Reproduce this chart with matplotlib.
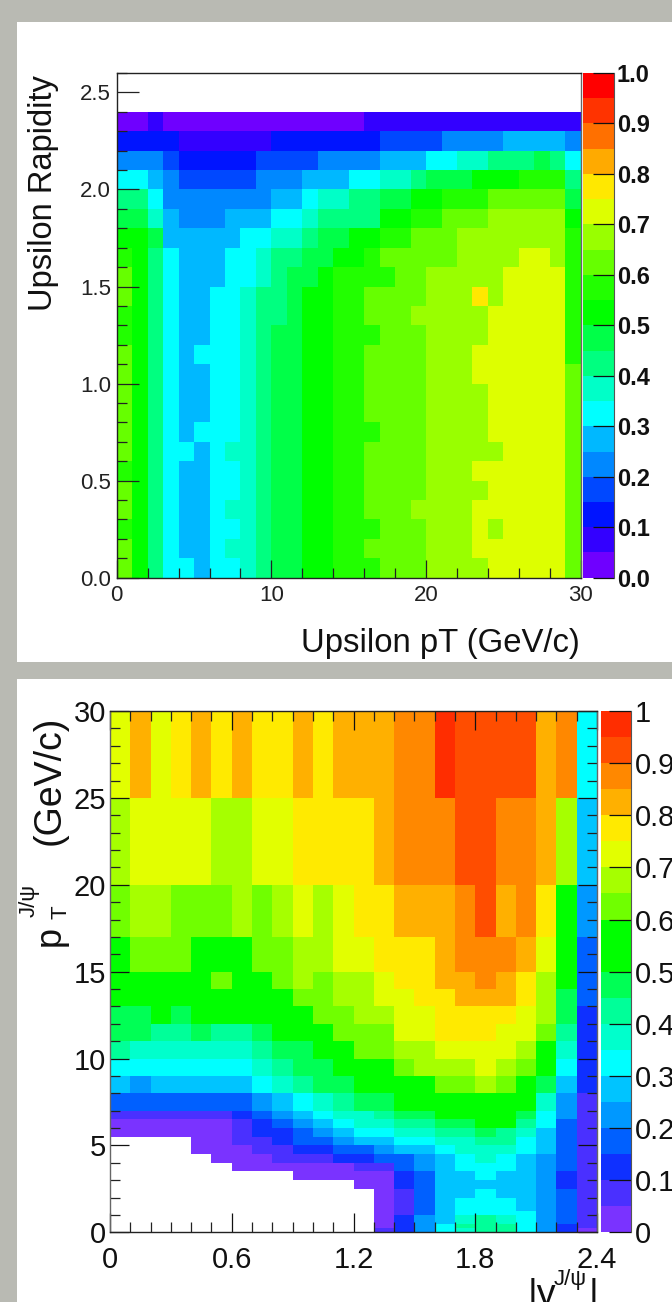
import numpy as np
import matplotlib
matplotlib.use("Agg")
import matplotlib.pyplot as plt
from matplotlib.colors import ListedColormap, BoundaryNorm
from matplotlib.ticker import MultipleLocator

W, H = 672, 1302
plt.rcParams['font.family'] = ['Liberation Sans', 'DejaVu Sans']

# efficiency is stored as the palette bin it falls in (bin n = n*0.05 .. (n+1)*0.05), -1 = empty
upsilon_pt_edges = list(range(0, 31))
upsilon_y_edges = [i / 10 for i in range(0, 25)]
upsilon_bins = [  # top row (y 2.3-2.4) first
    [0,0,1,0,0,0,0,0,0,0,0,0,0,0,0,0,1,1,1,1,1,1,1,1,1,1,1,1,1,1],
    [2,2,2,2,1,1,1,1,1,1,2,2,2,2,2,2,2,3,3,3,3,4,4,4,4,5,5,5,5,4],
    [4,4,4,3,2,2,2,2,2,3,3,3,3,4,4,4,4,5,5,5,6,6,7,7,8,8,8,9,8,6],
    [6,6,5,4,3,3,3,3,3,4,4,4,5,5,5,6,6,7,7,8,9,9,9,10,10,10,11,11,11,8],
    [8,8,6,4,4,4,4,4,4,4,5,5,6,7,7,8,8,9,9,10,10,11,11,11,12,12,12,12,12,9],
    [9,9,7,5,4,4,4,5,5,5,6,6,7,8,8,8,8,10,10,11,11,12,12,12,13,13,13,13,13,10],
    [10,10,9,5,5,5,5,5,6,6,7,7,8,9,9,10,10,11,11,12,12,12,13,13,13,13,13,13,13,11],
    [11,10,8,6,5,5,5,6,6,7,8,8,9,9,10,10,11,12,12,12,12,12,13,13,13,13,14,14,13,11],
    [12,10,8,6,5,5,5,6,6,7,8,9,9,10,11,11,11,11,12,12,13,13,13,13,13,14,14,14,14,11],
    [12,10,8,6,5,5,6,6,7,8,8,9,10,10,11,11,12,12,12,12,13,13,13,15,13,14,14,14,14,11],
    [11,10,8,6,5,5,6,6,7,8,8,9,10,10,11,11,12,12,12,13,13,13,13,13,14,14,14,14,14,11],
    [11,10,8,6,5,5,6,6,7,8,9,9,10,10,11,11,11,12,12,12,13,13,13,13,14,14,14,14,14,11],
    [12,10,8,6,5,6,6,6,7,8,9,9,10,10,11,11,12,12,12,12,13,13,13,14,14,14,14,14,14,11],
    [12,10,8,6,5,5,6,6,7,8,9,9,10,10,11,11,12,12,12,12,13,13,13,14,14,14,14,14,14,12],
    [12,10,8,6,5,5,6,6,7,8,9,9,10,10,11,11,12,12,12,12,13,13,13,13,14,14,14,14,14,12],
    [12,10,8,6,5,5,6,6,7,8,9,9,10,10,11,11,12,12,12,12,13,13,13,13,14,14,14,14,14,12],
    [12,10,8,6,5,6,6,6,7,8,9,9,10,10,11,11,11,12,12,12,13,13,13,13,14,14,14,14,14,12],
    [12,10,8,6,6,5,6,7,7,8,9,9,10,10,11,11,12,12,12,12,13,13,13,13,13,14,14,14,14,12],
    [11,10,8,6,5,5,6,6,7,8,9,9,10,10,11,11,12,12,12,12,13,13,13,14,14,14,14,14,14,12],
    [12,10,8,6,5,5,6,6,7,8,9,9,10,10,11,11,12,12,12,12,13,13,13,13,14,14,14,14,14,12],
    [12,10,8,6,5,5,6,7,7,8,9,9,10,10,11,11,12,12,12,13,13,13,13,14,14,14,14,14,14,12],
    [11,10,8,6,5,5,6,6,7,8,9,9,10,10,11,11,11,12,12,12,13,13,13,14,13,14,14,14,14,12],
    [12,10,8,6,5,5,6,7,7,8,9,9,10,10,11,11,12,12,12,12,13,13,13,14,14,14,14,14,14,12],
    [12,10,8,6,6,5,6,6,7,8,9,9,10,10,11,11,11,12,12,12,13,13,13,13,14,14,14,14,14,12],
]

jpsi_y_edges = [i / 10 for i in range(0, 25)]
jpsi_pt_edges = [0,0.25,0.5,1,1.25,1.5,2,2.5,3,3.5,4,4.5,5,5.5,6,6.5,7,8,9,10,11,12,13,14,15,17,20,25,30]
E = -1
jpsi_bins = [  # top row (pT 25-30) first
    [14,16,14,15,16,15,16,15,15,16,15,16,16,16,17,17,19,18,18,18,18,16,17,6],
    [13,14,14,14,14,13,13,14,14,15,15,15,15,16,17,17,17,18,18,17,17,16,13,5],
    [12,13,13,12,12,12,13,12,13,14,13,14,15,15,16,16,16,17,18,16,17,15,11,4],
    [11,12,12,12,11,11,11,12,12,13,13,14,14,15,15,15,16,17,17,17,16,14,11,3],
    [11,11,11,11,11,12,11,11,12,13,12,13,13,14,15,15,16,16,17,16,15,13,11,3],
    [11,11,11,11,11,11,11,11,11,12,12,13,13,14,14,15,15,16,16,16,15,13,9,3],
    [9,9,11,9,11,11,11,11,11,11,12,12,13,13,14,14,15,15,15,15,14,13,9,2],
    [9,9,8,8,9,8,8,9,11,11,11,12,12,12,14,14,15,15,15,14,14,12,8,2],
    [8,7,7,7,7,7,7,8,9,9,11,11,12,12,13,13,14,14,14,14,13,11,7,2],
    [6,6,6,6,6,6,6,7,8,9,9,11,11,11,12,13,13,13,14,13,12,11,6,2],
    [5,4,5,5,5,5,5,6,7,8,9,9,11,11,11,11,12,12,13,12,11,9,5,2],
    [3,3,3,3,3,3,3,4,5,6,7,8,9,9,11,11,11,11,11,11,11,7,4,1],
    [1,1,1,1,1,1,2,3,4,5,6,7,7,8,9,9,11,11,11,11,9,6,4,1],
    [0,0,0,0,0,0,1,2,3,4,5,6,7,7,8,8,9,9,11,11,8,6,3,1],
    [0,0,0,0,0,0,1,2,2,3,4,5,6,6,7,7,8,8,9,8,7,5,3,1],
    [E,E,E,E,0,0,1,1,2,3,3,4,5,5,6,6,7,7,8,8,6,5,3,1],
    [E,E,E,E,0,0,0,1,1,2,2,3,3,4,5,5,6,7,7,7,6,5,3,1],
    [E,E,E,E,E,0,0,0,1,1,1,2,2,3,3,4,5,6,7,6,5,4,3,1],
    [E,E,E,E,E,E,0,0,0,0,0,0,1,1,3,4,5,6,6,6,5,4,3,1],
    [E,E,E,E,E,E,E,E,E,0,0,0,0,0,2,3,5,5,6,5,5,4,2,1],
    [E,E,E,E,E,E,E,E,E,E,E,E,0,0,2,3,5,5,5,5,5,4,2,1],
    [E,E,E,E,E,E,E,E,E,E,E,E,E,0,1,3,5,5,6,5,5,4,3,1],
    [E,E,E,E,E,E,E,E,E,E,E,E,E,0,1,3,5,6,6,6,5,4,3,1],
    [E,E,E,E,E,E,E,E,E,E,E,E,E,0,1,3,5,6,6,6,5,4,3,1],
    [E,E,E,E,E,E,E,E,E,E,E,E,E,0,1,3,5,6,6,6,6,4,3,1],
    [E,E,E,E,E,E,E,E,E,E,E,E,E,0,2,4,5,7,8,7,6,4,3,1],
    [E,E,E,E,E,E,E,E,E,E,E,E,E,0,2,4,6,8,8,8,6,4,2,1],
    [E,E,E,E,E,E,E,E,E,E,E,E,E,1,2,4,6,7,8,8,6,4,2,0],
]

top_colors = ['#6f00ff','#3300ff','#0014ff','#0048ff','#0088ff','#00b8ff','#00ffff','#00ffc8','#00ff80','#00ff48',
              '#00ff00','#22ff00','#66ff00','#99ff00','#ddff00','#ffe800','#ffaa00','#ff7000','#ff3300','#ff0000']
bottom_colors = ['#7a33ff','#4a30ff','#0f30ff','#0060ff','#0098ff','#00c4ff','#00ffff','#00ffcc','#00ff99','#00ff55',
                 '#00ff00','#00ff00','#70ff00','#a6ff00','#e2ff00','#ffea00','#ffb000','#ff8800','#ff4d00','#ff2d00']
GREY = '#b9bab3'


def add_ax(x0, y0, x1, y1):
    return fig.add_axes([x0 / W, 1 - y1 / H, (x1 - x0) / W, (y1 - y0) / H])


def txt(x, y, s, **kw):
    kw.setdefault('ha', 'center')
    kw.setdefault('va', 'center_baseline')
    kw.setdefault('color', '#111111')
    return fig.text(x / W, 1 - y / H, s, **kw)


def heat(ax, xe, ye, bins, colors):
    cmap = ListedColormap(colors)
    norm = BoundaryNorm(np.arange(21), 20)
    z = np.ma.masked_less(np.array(bins)[::-1], 0)
    ax.pcolormesh(xe, ye, z, cmap=cmap, norm=norm)


def colorbar(x0, y0, x1, y1, colors, tick_len, labels, lab_x, **lab_kw):
    ax = add_ax(x0, y0, x1, y1)
    levels = np.arange(20)[:, None]
    ax.pcolormesh([0, 1], np.arange(21) / 20, levels, cmap=ListedColormap(colors),
                  norm=BoundaryNorm(np.arange(21), 20))
    ax.set_xlim(0, 1)
    ax.set_ylim(0, 1)
    ax.set_xticks([])
    ax.yaxis.tick_right()
    ax.set_yticks(np.arange(0, 11) / 10)
    ax.tick_params(axis='y', direction='in', length=tick_len, width=0.9, color='#111111', labelright=False)
    for s in ax.spines.values():
        s.set_visible(False)
    ax.spines['right'].set_visible(True)
    ax.spines['right'].set_color('#555555')
    for v, lab in labels:
        txt(lab_x, y1 - (y1 - y0) * v, lab, ha='left', **lab_kw)


fig = plt.figure(figsize=(W / 100, H / 100), dpi=100, facecolor=GREY)
fig.add_artist(plt.Rectangle((17 / W, 1 - 662 / H), (W - 17) / W, (662 - 22) / H,
                             transform=fig.transFigure, facecolor='white', edgecolor='none', zorder=-5))
fig.add_artist(plt.Rectangle((17 / W, 0), (W - 17) / W, (H - 679) / H,
                             transform=fig.transFigure, facecolor='white', edgecolor='none', zorder=-5))

# upper panel
ax1 = add_ax(116.7, 73, 580.7, 577.7)
ax1.patch.set_alpha(0)
heat(ax1, upsilon_pt_edges, upsilon_y_edges, upsilon_bins, top_colors)
ax1.set_xlim(0, 30)
ax1.set_ylim(0, 2.6)
ax1.xaxis.set_minor_locator(MultipleLocator(2))
ax1.yaxis.set_minor_locator(MultipleLocator(0.1))
ax1.set_xticks([0, 10, 20, 30])
ax1.set_yticks([0, 0.5, 1, 1.5, 2, 2.5])
ax1.set_xticklabels(['0', '10', '20', '30'])
ax1.set_yticklabels(['0.0', '0.5', '1.0', '1.5', '2.0', '2.5'])
ax1.tick_params(which='major', direction='in', labelsize=16, colors='#222222', width=0.9)
ax1.tick_params(axis='x', which='major', length=13, pad=5)
ax1.tick_params(axis='y', which='major', length=16, pad=4)
ax1.tick_params(which='minor', direction='in', length=7, width=0.9, color='#222222')
for s in ax1.spines.values():
    s.set_linewidth(1.0)
    s.set_color('#222222')
ax1.spines['right'].set_color('#666666')
txt(440, 640, 'Upsilon pT (GeV/c)', fontsize=23.7)
txt(44, 193, 'Upsilon Rapidity', fontsize=23.5, rotation=90, va='center')
colorbar(583.3, 73, 614, 577.7, top_colors, 15,
         [(i / 10, '%.1f' % (i / 10)) for i in range(11)], 617, fontsize=17, fontweight='bold')

# lower panel
ax2 = add_ax(110, 711, 597, 1232.3)
ax2.patch.set_alpha(0)
heat(ax2, jpsi_y_edges, jpsi_pt_edges, jpsi_bins, bottom_colors)
ax2.set_xlim(0, 2.4)
ax2.set_ylim(0, 30)
ax2.set_xticks([0, 0.6, 1.2, 1.8, 2.4])
ax2.set_xticklabels(['0', '0.6', '1.2', '1.8', '2.4'])
ax2.set_yticks([0, 5, 10, 15, 20, 25, 30])
ax2.xaxis.set_minor_locator(MultipleLocator(0.1))
ax2.yaxis.set_minor_locator(MultipleLocator(1))
ax2.tick_params(which='both', direction='in', top=True, right=True, color='#222222', width=0.9)
ax2.tick_params(which='major', length=14, labelsize=21, colors='#111111')
ax2.tick_params(axis='x', which='major', pad=10)
ax2.tick_params(axis='y', which='major', pad=3)
ax2.tick_params(which='minor', length=7)
for s in ax2.spines.values():
    s.set_linewidth(1.0)
    s.set_color('#222222')
ax2.spines['left'].set_color('#666666')
ax2.spines['right'].set_color('#666666')
txt(528, 1292, '|y', fontsize=27, ha='left')
txt(570, 1277, 'J/\u03c8', fontsize=16)
txt(589, 1292, '|', fontsize=27, ha='left')
txt(50, 780, '(GeV/c)', fontsize=27, rotation=90, va='center')
txt(50, 936, 'p', fontsize=26, rotation=90, va='center')
txt(61, 912, 'T', fontsize=16, rotation=90, va='center')
txt(29, 900, 'J/\u03c8', fontsize=16, rotation=90, va='center')
colorbar(600.7, 711, 630.7, 1232.3, bottom_colors, 16,
         [(i / 10, '%g' % (i / 10)) for i in range(11)], 635, fontsize=21)

fig.savefig('out.png', dpi=100, facecolor=GREY)
